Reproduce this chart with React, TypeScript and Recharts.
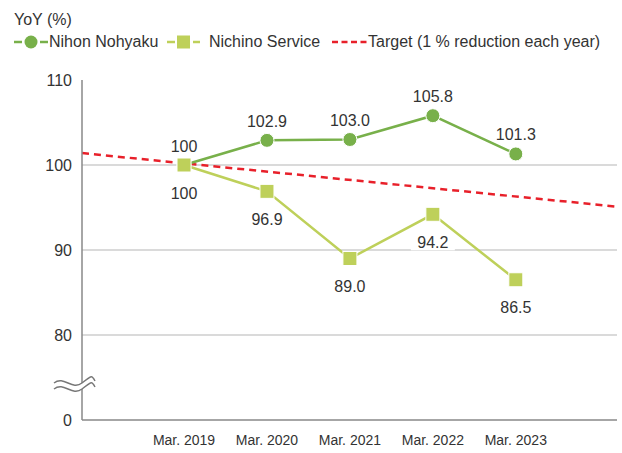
import React from "react";
import {
  LineChart,
  Line,
  XAxis,
  YAxis,
  CartesianGrid,
  LabelList,
  ReferenceDot,
} from "recharts";

const years = ["Mar. 2019", "Mar. 2020", "Mar. 2021", "Mar. 2022", "Mar. 2023"];
const nihon = [100, 102.9, 103.0, 105.8, 101.3];
const nichino = [100, 96.9, 89.0, 94.2, 86.5];
// target line drawn across the whole plot: value at left edge and right edge
const targetX = [-1.23, 5.22];
const targetValues = [101.4, 95.1];
// broken axis: the bottom tick stands for 0
const yTicks = [70, 80, 90, 100, 110];
const yTickLabels = ["0", "80", "90", "100", "110"];
const gridValues = [80, 90, 100];
const breakAt = 74;

const GREEN = "#78b04a";
const LIME = "#bed05a";
const RED = "#e8202a";
const TEXT = "#333";
const FONT = '"Liberation Sans", Arial, sans-serif';

const data = years.map((_, i) => ({ x: i, nihon: nihon[i], nichino: nichino[i] }));
const targetData = targetX.map((x, i) => ({ x, target: targetValues[i] }));

const fmt = (v: number) => (v === 100 ? "100" : v.toFixed(1));

// labels below the points get a white box so gridlines don't run through them
const makeLabel = (dy: number, boxed: boolean) => (props: any) => {
  const { x, y, value } = props;
  const text = fmt(Number(value));
  const w = text.length * 9 + 8;
  return (
    <g>
      {boxed && <rect x={x - w / 2} y={y + dy - 8} width={w} height={16} fill="#fff" />}
      <text
        x={x}
        y={y + dy}
        textAnchor="middle"
        dominantBaseline="central"
        fontSize={16}
        fontFamily={FONT}
        fill={TEXT}
      >
        {text}
      </text>
    </g>
  );
};

const SquareDot = (props: any) => {
  const { cx, cy } = props;
  if (cx == null || cy == null) return null;
  return <rect x={cx - 7} y={cy - 7} width={14} height={14} fill={LIME} stroke="#fff" strokeWidth={1} />;
};

const AxisBreak = (props: any) => {
  const { cx, cy } = props;
  const wave = (o: number) =>
    `M ${cx - 28} ${cy + o} C ${cx - 18} ${cy + o - 8}, ${cx - 10} ${cy + o + 8}, ${cx} ${cy + o} S ${cx + 10} ${cy + o - 8}, ${cx + 13} ${cy + o - 2}`;
  return (
    <g>
      <rect x={cx - 2} y={cy - 3} width={4} height={6} fill="#fff" />
      <path d={wave(-3)} fill="none" stroke="#777" strokeWidth={1.4} />
      <path d={wave(3)} fill="none" stroke="#777" strokeWidth={1.4} />
    </g>
  );
};

function LegendRow() {
  const text = { position: "absolute" as const, top: 33, lineHeight: "18px" };
  return (
    <div style={{ fontFamily: FONT, fontSize: 16, color: TEXT }}>
      <div style={{ position: "absolute", left: 14, top: 11, lineHeight: "18px" }}>YoY (%)</div>
      <svg width={622} height={60} style={{ position: "absolute", left: 0, top: 0 }}>
        <line x1={14} y1={42} x2={22} y2={42} stroke={GREEN} strokeWidth={2.5} />
        <circle cx={31} cy={42} r={6.5} fill={GREEN} />
        <line x1={40} y1={42} x2={48} y2={42} stroke={GREEN} strokeWidth={2.5} />
        <line x1={167} y1={42} x2={175} y2={42} stroke={LIME} strokeWidth={2.5} />
        <rect x={177} y={35.5} width={13} height={13} fill={LIME} />
        <line x1={193} y1={42} x2={200} y2={42} stroke={LIME} strokeWidth={2.5} />
        <line x1={332} y1={42} x2={367} y2={42} stroke={RED} strokeWidth={2.5} strokeDasharray="6 3.5" />
      </svg>
      <div style={{ ...text, left: 49 }}>Nihon Nohyaku</div>
      <div style={{ ...text, left: 209 }}>Nichino Service</div>
      <div style={{ ...text, left: 368 }}>Target (1 % reduction each year)</div>
    </div>
  );
}

export default function App() {
  return (
    <div style={{ position: "absolute", left: 0, top: 0, width: 622, height: 453, background: "#fff" }}>
      <LegendRow />
      <LineChart
        width={622}
        height={453}
        data={data}
        margin={{ top: 80, right: 5, left: 0, bottom: 0 }}
        style={{ position: "absolute", left: 0, top: 0 }}
      >
        <CartesianGrid vertical={false} horizontalValues={gridValues} stroke="#b5b5b5" />
        <XAxis
          dataKey="x"
          type="number"
          domain={[targetX[0], targetX[1]]}
          allowDataOverflow
          ticks={[0, 1, 2, 3, 4]}
          interval={0}
          tickFormatter={(i: number) => years[i] ?? ""}
          tickLine={false}
          axisLine={{ stroke: "#888", strokeWidth: 1.5 }}
          height={33}
          tickMargin={9}
          tick={{ fontSize: 14, fill: TEXT, fontFamily: FONT }}
        />
        <YAxis
          type="number"
          domain={[70, 110]}
          ticks={yTicks}
          interval={0}
          tickFormatter={(v: number) => yTickLabels[yTicks.indexOf(v)] ?? ""}
          tickLine={false}
          axisLine={{ stroke: "#888", strokeWidth: 1.5 }}
          width={82}
          tickMargin={4}
          tick={{ fontSize: 16, fill: TEXT, fontFamily: FONT }}
        />
        <Line
          data={targetData}
          dataKey="target"
          stroke={RED}
          strokeWidth={2.5}
          strokeDasharray="7 5"
          dot={false}
          activeDot={false}
          isAnimationActive={false}
        />
        <Line
          dataKey="nihon"
          stroke={GREEN}
          strokeWidth={2.5}
          dot={{ r: 7, fill: GREEN, stroke: "#fff", strokeWidth: 1 }}
          activeDot={false}
          isAnimationActive={false}
        >
          <LabelList dataKey="nihon" content={makeLabel(-19, false)} />
        </Line>
        <Line
          dataKey="nichino"
          stroke={LIME}
          strokeWidth={2.5}
          dot={<SquareDot />}
          activeDot={false}
          isAnimationActive={false}
        >
          <LabelList dataKey="nichino" content={makeLabel(28, true)} />
        </Line>
        <ReferenceDot x={targetX[0]} y={breakAt} ifOverflow="visible" shape={<AxisBreak />} />
      </LineChart>
    </div>
  );
}
